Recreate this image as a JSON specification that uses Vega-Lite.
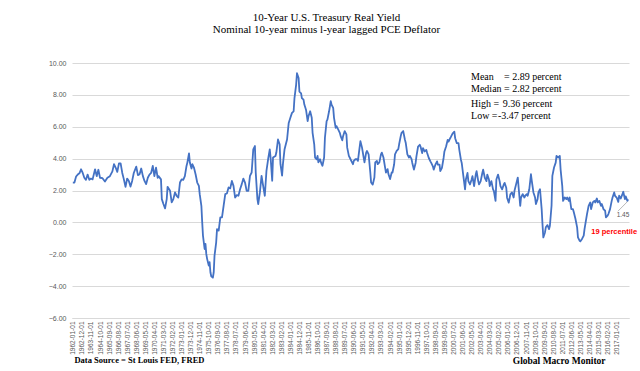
{
  "$schema": "https://vega.github.io/schema/vega-lite/v6.json",
  "width": 557,
  "height": 255,
  "autosize": {"type": "none"},
  "padding": {"left": 72, "top": 63, "right": 11, "bottom": 53},
  "background": "white",
  "title": {
    "text": ["10-Year U.S. Treasury Real Yield", "Nominal 10-year minus l-year lagged PCE Deflator"],
    "font": "Liberation Serif",
    "fontSize": 11,
    "fontWeight": "normal",
    "color": "#000000",
    "lineHeight": 12,
    "anchor": "middle",
    "dx": -24,
    "offset": 24
  },
  "config": {
    "view": {"stroke": null}
  },
  "encoding": {
    "x": {
      "field": "d",
      "type": "temporal",
      "scale": {
        "type": "utc",
        "domain": [{"year": 1961, "month": 12, "date": 1, "utc": true}, {"year": 2018, "month": 4, "date": 1, "utc": true}]
      },
      "axis": {
        "title": null,
        "labelExpr": "utcFormat(datum.value, '%Y-%m-%d')",
        "labelAngle": -90,
        "labelFont": "Liberation Sans",
        "labelFontSize": 6.5,
        "labelColor": "#595959",
        "labelOverlap": false,
        "labelFlush": false,
        "labelPadding": 3,
        "grid": false,
        "ticks": false,
        "domain": true,
        "domainColor": "#d9d9d9",
        "values": [
          {"year":1962,"month":1,"date":1,"utc":true},{"year":1962,"month":12,"date":1,"utc":true},{"year":1963,"month":11,"date":1,"utc":true},{"year":1964,"month":10,"date":1,"utc":true},{"year":1965,"month":9,"date":1,"utc":true},{"year":1966,"month":8,"date":1,"utc":true},{"year":1967,"month":7,"date":1,"utc":true},{"year":1968,"month":6,"date":1,"utc":true},{"year":1969,"month":5,"date":1,"utc":true},{"year":1970,"month":4,"date":1,"utc":true},{"year":1971,"month":3,"date":1,"utc":true},{"year":1972,"month":2,"date":1,"utc":true},{"year":1973,"month":1,"date":1,"utc":true},{"year":1973,"month":12,"date":1,"utc":true},{"year":1974,"month":11,"date":1,"utc":true},{"year":1975,"month":10,"date":1,"utc":true},{"year":1976,"month":9,"date":1,"utc":true},{"year":1977,"month":8,"date":1,"utc":true},{"year":1978,"month":7,"date":1,"utc":true},{"year":1979,"month":6,"date":1,"utc":true},{"year":1980,"month":5,"date":1,"utc":true},{"year":1981,"month":4,"date":1,"utc":true},{"year":1982,"month":3,"date":1,"utc":true},{"year":1983,"month":2,"date":1,"utc":true},{"year":1984,"month":1,"date":1,"utc":true},{"year":1984,"month":12,"date":1,"utc":true},{"year":1985,"month":11,"date":1,"utc":true},{"year":1986,"month":10,"date":1,"utc":true},{"year":1987,"month":9,"date":1,"utc":true},{"year":1988,"month":8,"date":1,"utc":true},{"year":1989,"month":7,"date":1,"utc":true},{"year":1990,"month":6,"date":1,"utc":true},{"year":1991,"month":5,"date":1,"utc":true},{"year":1992,"month":4,"date":1,"utc":true},{"year":1993,"month":3,"date":1,"utc":true},{"year":1994,"month":2,"date":1,"utc":true},{"year":1995,"month":1,"date":1,"utc":true},{"year":1995,"month":12,"date":1,"utc":true},{"year":1996,"month":11,"date":1,"utc":true},{"year":1997,"month":10,"date":1,"utc":true},{"year":1998,"month":9,"date":1,"utc":true},{"year":1999,"month":8,"date":1,"utc":true},{"year":2000,"month":7,"date":1,"utc":true},{"year":2001,"month":6,"date":1,"utc":true},{"year":2002,"month":5,"date":1,"utc":true},{"year":2003,"month":4,"date":1,"utc":true},{"year":2004,"month":3,"date":1,"utc":true},{"year":2005,"month":2,"date":1,"utc":true},{"year":2006,"month":1,"date":1,"utc":true},{"year":2006,"month":12,"date":1,"utc":true},{"year":2007,"month":11,"date":1,"utc":true},{"year":2008,"month":10,"date":1,"utc":true},{"year":2009,"month":9,"date":1,"utc":true},{"year":2010,"month":8,"date":1,"utc":true},{"year":2011,"month":7,"date":1,"utc":true},{"year":2012,"month":6,"date":1,"utc":true},{"year":2013,"month":5,"date":1,"utc":true},{"year":2014,"month":4,"date":1,"utc":true},{"year":2015,"month":3,"date":1,"utc":true},{"year":2016,"month":2,"date":1,"utc":true},{"year":2017,"month":1,"date":1,"utc":true}
        ]
      }
    },
    "y": {
      "field": "v",
      "type": "quantitative",
      "scale": {"domain": [-6, 10], "nice": false, "zero": false},
      "axis": {
        "title": null,
        "values": [-6, -4, -2, 0, 2, 4, 6, 8, 10],
        "format": ".2f",
        "labelFont": "Liberation Sans",
        "labelFontSize": 7,
        "labelColor": "#595959",
        "labelPadding": 6,
        "grid": true,
        "gridColor": "#d9d9d9",
        "gridWidth": 1,
        "domain": false,
        "ticks": false
      }
    }
  },
  "layer": [
    {
      "data": {"values": [
        {"d":"1962-01-01","v":2.5},{"d":"1962-03-01","v":2.5},{"d":"1962-05-01","v":2.88},{"d":"1962-07-01","v":3.0},{"d":"1962-09-01","v":3.08},{"d":"1962-11-01","v":3.33},
        {"d":"1963-01-01","v":3.1},{"d":"1963-03-01","v":2.8},{"d":"1963-05-01","v":2.67},{"d":"1963-07-01","v":3.0},{"d":"1963-09-01","v":2.67},{"d":"1963-11-01","v":2.75},
        {"d":"1964-01-01","v":2.7},{"d":"1964-04-01","v":3.33},{"d":"1964-06-01","v":2.9},{"d":"1964-08-01","v":3.3},{"d":"1964-10-01","v":2.8},
        {"d":"1965-01-01","v":2.77},{"d":"1965-04-01","v":2.56},{"d":"1965-07-01","v":2.8},{"d":"1965-10-01","v":2.9},
        {"d":"1966-01-01","v":3.2},{"d":"1966-03-01","v":3.65},{"d":"1966-05-01","v":3.44},{"d":"1966-07-01","v":3.17},{"d":"1966-09-01","v":3.7},{"d":"1966-11-01","v":3.7},
        {"d":"1967-01-01","v":3.1},{"d":"1967-03-01","v":2.7},{"d":"1967-05-01","v":2.23},{"d":"1967-07-01","v":2.75},{"d":"1967-09-01","v":2.6},{"d":"1967-11-01","v":2.25},
        {"d":"1968-01-01","v":2.6},{"d":"1968-03-01","v":3.1},{"d":"1968-06-01","v":3.5},{"d":"1968-08-01","v":2.96},{"d":"1968-10-01","v":3.02},{"d":"1968-12-01","v":3.38},
        {"d":"1969-02-01","v":2.9},{"d":"1969-04-01","v":2.6},{"d":"1969-06-01","v":2.4},{"d":"1969-08-01","v":2.8},{"d":"1969-10-01","v":3.0},{"d":"1969-12-01","v":3.1},
        {"d":"1970-02-01","v":3.54},{"d":"1970-04-01","v":2.9},{"d":"1970-06-01","v":3.44},{"d":"1970-08-01","v":2.8},{"d":"1970-09-01","v":2.9},{"d":"1970-12-01","v":2.7},
        {"d":"1971-01-01","v":1.46},{"d":"1971-03-01","v":1.15},{"d":"1971-05-01","v":0.88},{"d":"1971-07-01","v":1.46},{"d":"1971-08-01","v":2.23},{"d":"1971-11-01","v":1.98},
        {"d":"1972-01-01","v":1.25},{"d":"1972-03-01","v":1.46},{"d":"1972-05-01","v":1.88},{"d":"1972-07-01","v":1.67},{"d":"1972-09-01","v":1.56},{"d":"1972-11-01","v":2.5},
        {"d":"1973-01-01","v":2.7},{"d":"1973-03-01","v":2.67},{"d":"1973-05-01","v":2.9},{"d":"1973-07-01","v":3.54},{"d":"1973-08-01","v":3.75},{"d":"1973-10-01","v":4.33},{"d":"1973-11-01","v":3.75},
        {"d":"1974-01-01","v":3.38},{"d":"1974-02-01","v":3.65},{"d":"1974-04-01","v":3.44},{"d":"1974-06-01","v":3.02},{"d":"1974-08-01","v":2.5},{"d":"1974-10-01","v":2.29},{"d":"1974-11-01","v":1.77},
        {"d":"1975-01-01","v":1.04},{"d":"1975-02-01","v":0.0},{"d":"1975-03-01","v":-0.83},{"d":"1975-05-01","v":-1.67},{"d":"1975-06-01","v":-1.35},{"d":"1975-07-01","v":-1.98},{"d":"1975-08-01","v":-2.29},{"d":"1975-10-01","v":-2.71},{"d":"1975-11-01","v":-2.5},{"d":"1975-12-01","v":-3.13},
        {"d":"1976-01-01","v":-3.38},{"d":"1976-03-01","v":-3.47},{"d":"1976-04-01","v":-3.13},{"d":"1976-05-01","v":-2.08},{"d":"1976-07-01","v":-1.25},{"d":"1976-08-01","v":-0.42},{"d":"1976-10-01","v":-0.52},{"d":"1976-12-01","v":0.31},
        {"d":"1977-02-01","v":0.31},{"d":"1977-04-01","v":1.04},{"d":"1977-06-01","v":1.77},{"d":"1977-08-01","v":1.81},{"d":"1977-10-01","v":2.19},{"d":"1977-12-01","v":2.13},
        {"d":"1978-02-01","v":2.6},{"d":"1978-04-01","v":2.29},{"d":"1978-06-01","v":1.56},{"d":"1978-08-01","v":1.71},{"d":"1978-10-01","v":1.67},{"d":"1978-12-01","v":2.08},
        {"d":"1979-02-01","v":2.4},{"d":"1979-04-01","v":2.75},{"d":"1979-06-01","v":2.5},{"d":"1979-08-01","v":1.98},{"d":"1979-10-01","v":1.98},{"d":"1979-12-01","v":2.92},
        {"d":"1980-02-01","v":3.13},{"d":"1980-04-01","v":4.58},{"d":"1980-06-01","v":4.79},{"d":"1980-07-01","v":3.13},{"d":"1980-09-01","v":1.46},{"d":"1980-10-01","v":1.15},{"d":"1980-12-01","v":1.88},
        {"d":"1981-02-01","v":2.92},{"d":"1981-04-01","v":2.29},{"d":"1981-06-01","v":1.67},{"d":"1981-08-01","v":3.23},{"d":"1981-10-01","v":3.96},{"d":"1981-12-01","v":4.58},
        {"d":"1982-01-01","v":4.07},{"d":"1982-03-01","v":2.61},{"d":"1982-04-01","v":4.07},{"d":"1982-07-01","v":4.17},{"d":"1982-08-01","v":4.38},{"d":"1982-10-01","v":5.2},{"d":"1982-12-01","v":4.9},
        {"d":"1983-01-01","v":3.65},{"d":"1983-03-01","v":2.93},{"d":"1983-04-01","v":3.65},{"d":"1983-06-01","v":4.59},{"d":"1983-08-01","v":5.0},{"d":"1983-09-01","v":5.2},{"d":"1983-11-01","v":6.24},
        {"d":"1984-01-01","v":6.56},{"d":"1984-03-01","v":6.87},{"d":"1984-05-01","v":6.97},{"d":"1984-06-01","v":7.8},{"d":"1984-08-01","v":8.63},{"d":"1984-09-01","v":9.36},{"d":"1984-11-01","v":9.05},{"d":"1984-12-01","v":8.2},
        {"d":"1985-02-01","v":8.1},{"d":"1985-03-01","v":7.8},{"d":"1985-05-01","v":7.7},{"d":"1985-06-01","v":7.39},{"d":"1985-08-01","v":7.07},{"d":"1985-10-01","v":6.35},{"d":"1985-11-01","v":6.66},
        {"d":"1986-01-01","v":6.97},{"d":"1986-03-01","v":6.56},{"d":"1986-04-01","v":5.62},{"d":"1986-06-01","v":4.9},{"d":"1986-07-01","v":4.07},{"d":"1986-09-01","v":3.96},{"d":"1986-10-01","v":4.17},{"d":"1986-11-01","v":3.76},
        {"d":"1987-01-01","v":3.96},{"d":"1987-03-01","v":3.65},{"d":"1987-04-01","v":3.55},{"d":"1987-06-01","v":4.07},{"d":"1987-07-01","v":5.31},{"d":"1987-09-01","v":6.35},{"d":"1987-10-01","v":6.45},{"d":"1987-12-01","v":6.97},
        {"d":"1988-02-01","v":7.6},{"d":"1988-03-01","v":7.39},{"d":"1988-05-01","v":7.18},{"d":"1988-06-01","v":6.56},{"d":"1988-08-01","v":5.93},{"d":"1988-09-01","v":6.04},{"d":"1988-11-01","v":5.83},
        {"d":"1989-01-01","v":5.62},{"d":"1989-02-01","v":5.41},{"d":"1989-04-01","v":5.15},{"d":"1989-05-01","v":5.41},{"d":"1989-07-01","v":5.73},{"d":"1989-09-01","v":5.52},{"d":"1989-10-01","v":4.69},{"d":"1989-12-01","v":4.17},
        {"d":"1990-01-01","v":4.07},{"d":"1990-03-01","v":3.86},{"d":"1990-05-01","v":3.65},{"d":"1990-06-01","v":3.86},{"d":"1990-08-01","v":3.96},{"d":"1990-10-01","v":3.96},{"d":"1990-11-01","v":3.86},
        {"d":"1991-01-01","v":4.69},{"d":"1991-02-01","v":5.1},{"d":"1991-04-01","v":4.69},{"d":"1991-06-01","v":4.07},{"d":"1991-07-01","v":3.76},{"d":"1991-09-01","v":4.38},{"d":"1991-10-01","v":4.48},{"d":"1991-12-01","v":4.27},
        {"d":"1992-02-01","v":3.13},{"d":"1992-03-01","v":2.51},{"d":"1992-05-01","v":2.37},{"d":"1992-07-01","v":2.82},{"d":"1992-08-01","v":3.76},{"d":"1992-10-01","v":3.86},{"d":"1992-11-01","v":3.65},
        {"d":"1993-01-01","v":3.76},{"d":"1993-03-01","v":4.27},{"d":"1993-04-01","v":4.38},{"d":"1993-06-01","v":4.07},{"d":"1993-08-01","v":3.44},{"d":"1993-09-01","v":3.13},{"d":"1993-11-01","v":3.34},{"d":"1993-12-01","v":3.03},
        {"d":"1994-02-01","v":2.72},{"d":"1994-04-01","v":3.13},{"d":"1994-05-01","v":3.13},{"d":"1994-07-01","v":3.65},{"d":"1994-08-01","v":4.27},{"d":"1994-10-01","v":4.48},{"d":"1994-12-01","v":4.59},
        {"d":"1995-01-01","v":4.9},{"d":"1995-03-01","v":5.41},{"d":"1995-04-01","v":5.62},{"d":"1995-06-01","v":5.73},{"d":"1995-08-01","v":5.2},{"d":"1995-09-01","v":5.0},{"d":"1995-11-01","v":4.27},
        {"d":"1996-01-01","v":4.07},{"d":"1996-02-01","v":4.17},{"d":"1996-04-01","v":3.98},{"d":"1996-05-01","v":3.73},{"d":"1996-07-01","v":3.31},{"d":"1996-09-01","v":3.73},{"d":"1996-10-01","v":4.14},{"d":"1996-12-01","v":4.76},
        {"d":"1997-02-01","v":4.87},{"d":"1997-03-01","v":4.76},{"d":"1997-05-01","v":4.35},{"d":"1997-06-01","v":4.66},{"d":"1997-08-01","v":4.45},{"d":"1997-10-01","v":4.55},{"d":"1997-11-01","v":4.35},
        {"d":"1998-01-01","v":4.04},{"d":"1998-03-01","v":3.83},{"d":"1998-04-01","v":3.73},{"d":"1998-06-01","v":3.52},{"d":"1998-07-01","v":3.31},{"d":"1998-09-01","v":3.62},{"d":"1998-11-01","v":3.83},{"d":"1998-12-01","v":3.62},
        {"d":"1999-02-01","v":3.62},{"d":"1999-03-01","v":3.21},{"d":"1999-05-01","v":3.42},{"d":"1999-07-01","v":4.04},{"d":"1999-08-01","v":4.45},{"d":"1999-10-01","v":4.76},{"d":"1999-12-01","v":5.18},
        {"d":"2000-01-01","v":5.07},{"d":"2000-03-01","v":5.28},{"d":"2000-04-01","v":5.38},{"d":"2000-06-01","v":5.59},{"d":"2000-08-01","v":5.69},{"d":"2000-09-01","v":5.28},{"d":"2000-11-01","v":4.97},
        {"d":"2001-01-01","v":4.97},{"d":"2001-02-01","v":4.55},{"d":"2001-04-01","v":3.93},{"d":"2001-05-01","v":3.73},{"d":"2001-07-01","v":2.9},{"d":"2001-09-01","v":2.07},{"d":"2001-10-01","v":2.69},{"d":"2001-12-01","v":3.1},
        {"d":"2002-01-01","v":2.59},{"d":"2002-03-01","v":2.38},{"d":"2002-05-01","v":2.69},{"d":"2002-06-01","v":2.9},{"d":"2002-08-01","v":2.28},{"d":"2002-10-01","v":3.0},{"d":"2002-11-01","v":3.21},
        {"d":"2003-01-01","v":2.59},{"d":"2003-02-01","v":2.38},{"d":"2003-04-01","v":2.59},{"d":"2003-06-01","v":3.1},{"d":"2003-07-01","v":3.31},{"d":"2003-09-01","v":2.8},{"d":"2003-11-01","v":2.59},{"d":"2003-12-01","v":3.0},
        {"d":"2004-02-01","v":2.69},{"d":"2004-03-01","v":2.28},{"d":"2004-05-01","v":2.59},{"d":"2004-07-01","v":2.07},{"d":"2004-08-01","v":1.97},{"d":"2004-10-01","v":1.35},{"d":"2004-11-01","v":2.69},
        {"d":"2005-01-01","v":3.0},{"d":"2005-03-01","v":2.59},{"d":"2005-04-01","v":2.28},{"d":"2005-06-01","v":2.07},{"d":"2005-08-01","v":2.38},{"d":"2005-09-01","v":2.48},{"d":"2005-11-01","v":2.17},{"d":"2005-12-01","v":1.55},
        {"d":"2006-02-01","v":1.24},{"d":"2006-04-01","v":1.76},{"d":"2006-06-01","v":1.88},{"d":"2006-08-01","v":1.56},{"d":"2006-09-01","v":1.98},{"d":"2006-11-01","v":2.4},
        {"d":"2007-01-01","v":2.81},{"d":"2007-02-01","v":2.19},{"d":"2007-04-01","v":1.04},{"d":"2007-05-01","v":1.56},{"d":"2007-07-01","v":1.77},{"d":"2007-09-01","v":1.56},{"d":"2007-10-01","v":1.67},{"d":"2007-12-01","v":1.77},
        {"d":"2008-01-01","v":1.67},{"d":"2008-03-01","v":2.08},{"d":"2008-05-01","v":3.02},{"d":"2008-06-01","v":2.6},{"d":"2008-08-01","v":1.88},{"d":"2008-10-01","v":1.56},{"d":"2008-11-01","v":1.15},
        {"d":"2009-01-01","v":1.46},{"d":"2009-02-01","v":1.88},{"d":"2009-04-01","v":2.08},{"d":"2009-06-01","v":0.83},{"d":"2009-07-01","v":-0.1},{"d":"2009-08-01","v":-0.94},{"d":"2009-10-01","v":-0.63},{"d":"2009-11-01","v":-0.31},
        {"d":"2010-01-01","v":-0.17},{"d":"2010-03-01","v":-0.42},{"d":"2010-04-01","v":-0.21},{"d":"2010-06-01","v":1.04},{"d":"2010-07-01","v":2.92},{"d":"2010-09-01","v":3.44},{"d":"2010-11-01","v":3.75},{"d":"2010-12-01","v":4.17},
        {"d":"2011-02-01","v":4.06},{"d":"2011-04-01","v":4.17},{"d":"2011-05-01","v":3.33},{"d":"2011-07-01","v":2.29},{"d":"2011-08-01","v":1.35},{"d":"2011-10-01","v":1.56},{"d":"2011-12-01","v":1.46},
        {"d":"2012-01-01","v":1.56},{"d":"2012-03-01","v":1.35},{"d":"2012-04-01","v":1.56},{"d":"2012-06-01","v":0.83},{"d":"2012-08-01","v":0.83},{"d":"2012-09-01","v":0.63},{"d":"2012-11-01","v":0.21},
        {"d":"2013-01-01","v":-0.31},{"d":"2013-02-01","v":-0.94},{"d":"2013-04-01","v":-1.15},{"d":"2013-05-01","v":-1.19},{"d":"2013-07-01","v":-1.04},{"d":"2013-09-01","v":-0.83},{"d":"2013-10-01","v":-0.42},{"d":"2013-12-01","v":0.21},
        {"d":"2014-01-01","v":0.52},{"d":"2014-03-01","v":1.04},{"d":"2014-05-01","v":1.25},{"d":"2014-06-01","v":0.83},{"d":"2014-08-01","v":1.25},{"d":"2014-10-01","v":1.35},{"d":"2014-11-01","v":1.25},
        {"d":"2015-01-01","v":1.5},{"d":"2015-02-01","v":1.25},{"d":"2015-04-01","v":1.35},{"d":"2015-06-01","v":1.04},{"d":"2015-07-01","v":1.15},{"d":"2015-09-01","v":0.83},{"d":"2015-11-01","v":0.73},{"d":"2015-12-01","v":0.31},
        {"d":"2016-02-01","v":0.42},{"d":"2016-03-01","v":0.52},{"d":"2016-05-01","v":0.83},{"d":"2016-07-01","v":1.35},{"d":"2016-08-01","v":1.56},{"d":"2016-10-01","v":1.88},{"d":"2016-11-01","v":1.67},
        {"d":"2017-01-01","v":1.56},{"d":"2017-03-01","v":1.29},{"d":"2017-04-01","v":1.67},{"d":"2017-06-01","v":1.5},{"d":"2017-08-01","v":1.77},{"d":"2017-09-01","v":1.92},{"d":"2017-11-01","v":1.46},{"d":"2017-12-01","v":1.63},
        {"d":"2018-02-01","v":1.35},{"d":"2018-03-01","v":1.45}
      ]},
      "mark": {"type": "line", "color": "#4472c4", "strokeWidth": 1.8, "strokeJoin": "round"}
    },
    {
      "data": {"values": [
        {"d": "2002-04-10", "v": 9.15, "t": "Mean"},
        {"d": "2002-04-10", "v": 8.4, "t": "Median"},
        {"d": "2005-08-10", "v": 9.15, "t": "= 2.89 percent"},
        {"d": "2005-08-10", "v": 8.4, "t": "= 2.82 percent"},
        {"d": "2002-04-10", "v": 7.4, "t": "High ="},
        {"d": "2005-06-28", "v": 7.4, "t": "9.36 percent"},
        {"d": "2002-04-10", "v": 6.65, "t": "Low  ="},
        {"d": "2005-01-01", "v": 6.65, "t": "-3.47 percent"}
      ]},
      "mark": {"type": "text", "font": "Liberation Serif", "fontSize": 10, "color": "#000000", "align": "left", "baseline": "middle"},
      "encoding": {"text": {"field": "t"}}
    },
    {
      "data": {"values": [
        {"d": "1962-03-01", "v": -8.65, "t": "Data Source = St Louis FED,  FRED"}
      ]},
      "mark": {"type": "text", "font": "Liberation Serif", "fontSize": 8.5, "fontWeight": "bold", "color": "#000000", "align": "left", "baseline": "middle"},
      "encoding": {"text": {"field": "t"}}
    },
    {
      "data": {"values": [
        {"d": "2006-07-01", "v": -8.67, "t": "Global Macro Monitor"}
      ]},
      "mark": {"type": "text", "font": "Liberation Serif", "fontSize": 9.5, "fontWeight": "bold", "color": "#000000", "align": "left", "baseline": "middle"},
      "encoding": {"text": {"field": "t"}}
    },
    {
      "data": {"values": [
        {"d": "2016-10-01", "v": -0.61, "t": "19 percentile"}
      ]},
      "mark": {"type": "text", "font": "Liberation Sans", "fontSize": 7.5, "fontWeight": "bold", "color": "#ff0000", "align": "center", "baseline": "middle"},
      "encoding": {"text": {"field": "t"}}
    },
    {
      "data": {"values": [
        {"d": "2017-01-01", "v": 0.46, "t": "1.45"}
      ]},
      "mark": {"type": "text", "font": "Liberation Sans", "fontSize": 6.5, "color": "#595959", "align": "left", "baseline": "middle"},
      "encoding": {"text": {"field": "t"}}
    },
    {
      "data": {"values": [
        {"d": "2017-02-15", "v": 0.7, "d2": "2018-02-01", "v2": 1.3}
      ]},
      "mark": {"type": "rule", "color": "#a6a6a6", "strokeWidth": 0.8},
      "encoding": {"x2": {"field": "d2"}, "y2": {"field": "v2"}}
    }
  ]
}
